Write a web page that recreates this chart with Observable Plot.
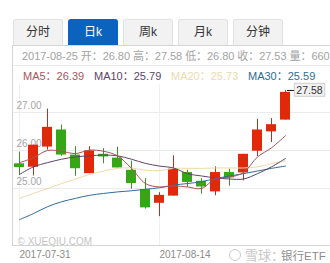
<!DOCTYPE html>
<html><head><meta charset="utf-8">
<script src="https://cdn.jsdelivr.net/npm/d3@7"></script>
<script src="https://cdn.jsdelivr.net/npm/@observablehq/plot@0.6"></script>
<style>
html,body{margin:0;padding:0;background:#fff;width:330px;height:263px;overflow:hidden}
body{position:relative;font-family:"Liberation Sans","Noto Sans CJK SC",sans-serif}
#chart{position:absolute;left:0;top:0}
#chart svg{display:block}
.tab{position:absolute;top:19px;width:50px;height:26px;box-sizing:border-box;background:#f2f2f2;border:1px solid #e2e2e2;border-bottom:none;border-radius:3px 3px 0 0;text-align:center;font-size:12px;line-height:25px;color:#333}
.tab.on{background:#0b63bd;border-color:#0b63bd;color:#fff}
.line{position:absolute;background:#d4d4d4}
.row{position:absolute;white-space:nowrap;font-size:11px;line-height:14px}
</style></head><body>
<div id="chart"></div>
<div id="chrome"></div>
<script>
const tabs = ["分时","日k","周k","月k","分钟"];
const infoText = "2017-08-25 开：26.80 高：27.58 低：26.80 收：27.53 量：660";
const maLabels = ["MA5：26.39","MA10：25.79","MA20：25.73","MA30：25.59"];
const maColors = ["#a9545a","#5c4468","#eed9ad","#2f6c96"];

const dates = ["2017-07-31","2017-08-01","2017-08-02","2017-08-03","2017-08-04",
  "2017-08-07","2017-08-08","2017-08-09","2017-08-10","2017-08-11",
  "2017-08-14","2017-08-15","2017-08-16","2017-08-17","2017-08-18",
  "2017-08-21","2017-08-22","2017-08-23","2017-08-24","2017-08-25"];
const open  = [25.65,25.56,26.09,26.54,25.88,25.39,25.90,25.80,25.48,24.97,24.61,24.80,25.42,25.19,24.91,25.42,25.41,25.98,26.49,26.80];
const close = [25.55,26.14,26.61,25.88,25.52,25.99,25.83,25.54,25.13,24.49,24.82,25.51,25.16,25.04,25.42,25.28,25.90,26.54,26.68,27.53];
const high  = [25.96,26.14,27.09,26.67,26.10,26.10,26.05,26.09,25.72,25.26,24.89,25.86,25.48,25.26,25.57,25.51,25.90,26.82,26.84,27.58];
const low   = [25.35,25.33,26.01,25.85,25.32,25.39,25.65,25.54,24.98,24.46,24.26,24.80,25.03,24.85,24.81,25.06,25.20,25.84,26.21,26.80];
const ma5   = [25.68,25.81,26.00,25.98,25.92,26.01,25.98,25.86,25.53,25.13,25.04,25.07,25.04,25.00,25.26,25.30,25.42,25.83,26.07,26.39];
const ma10  = [25.37,25.57,25.68,25.77,25.83,25.86,25.88,25.86,25.77,25.66,25.59,25.54,25.39,25.33,25.28,25.25,25.25,25.39,25.57,25.79];
const ma20  = [24.74,24.87,25.00,25.13,25.25,25.37,25.46,25.53,25.54,25.48,25.47,25.53,25.53,25.53,25.54,25.54,25.54,25.57,25.65,25.73];
const ma30  = [24.18,24.34,24.52,24.65,24.74,24.82,24.87,24.91,24.94,24.98,25.02,25.09,25.13,25.18,25.26,25.33,25.39,25.46,25.53,25.59];
const yTicks = [25,26,27];
const xTicks = ["2017-07-31","2017-08-14"];
const lastPrice = 27.58;

const candles = dates.map((d,i)=>({d,o:open[i],c:close[i],h:high[i],l:low[i]}));
const up = r => r.c >= r.o;
const ma = (vals,color)=>Plot.line(vals.map((v,i)=>({d:dates[i],v})),{x:"d",y:"v",stroke:color,strokeWidth:1,curve:"catmull-rom"});
const last = [{d:dates[dates.length-1],v:lastPrice}];

const plot = Plot.plot({
  width:330,height:263,
  marginLeft:13,marginRight:0,marginTop:84,marginBottom:18,
  style:{background:"transparent",fontFamily:"Liberation Sans, sans-serif"},
  x:{type:"band",domain:dates,range:[11.7,291.7],padding:0},
  y:{type:"linear",domain:[24,28],range:[226,74]},
  marks:[
    Plot.gridY(yTicks,{stroke:"#ececec",strokeOpacity:1}),
    Plot.gridX(xTicks,{stroke:"#f0f0f0",strokeOpacity:1}),
    Plot.axisY(yTicks,{anchor:"left",tickSize:0,tickPadding:0,textAnchor:"start",dx:3,dy:-7,fontSize:10,tickFormat:d3.format(".2f"),fill:"#a5a5a5",label:null}),
    Plot.axisX(xTicks,{anchor:"bottom",tickSize:0,tickPadding:5,textAnchor:"start",fontSize:10,fill:"#8c8c8c",label:null}),
    Plot.ruleX(candles,{x:"d",y1:"l",y2:"h",stroke:r=>up(r)?"#b2351f":"#3f8f2a",strokeWidth:1}),
    Plot.barY(candles,{x:"d",y1:"o",y2:"c",fill:r=>up(r)?"#e0290b":"#35a716",insetLeft:2,insetRight:2}),
    ma(ma20,maColors[2]),
    ma(ma30,maColors[3]),
    ma(ma10,maColors[1]),
    ma(ma5,maColors[0]),
    Plot.tickY(last,{x:"d",y:"v",stroke:"#111",strokeWidth:1,dx:9}),
    Plot.text(last,{x:"d",y:"v",text:d=>d3.format(".2f")(d.v),dx:24,fontSize:10.5,fill:"#333"}),
    Plot.text(["© XUEQIU.COM"],{frameAnchor:"bottom-left",dx:4,dy:-1,fontSize:10,fill:"#c4c4c4",textAnchor:"start"})
  ]
});
document.getElementById("chart").append(plot);

// Price label frame: placed behind the text mark, positioned from the text mark's own drawn box.
const priceText = [...plot.querySelectorAll("text")].find(t=>t.textContent===d3.format(".2f")(lastPrice));
const bb = priceText.getBBox();
const frame = document.createElementNS("http://www.w3.org/2000/svg","rect");
frame.setAttribute("x",bb.x-2);frame.setAttribute("y",bb.y-0.5);
frame.setAttribute("width",bb.width+4);frame.setAttribute("height",bb.height+1);
frame.setAttribute("fill","#f1f1f1");frame.setAttribute("stroke","#cfcfcf");
const ctm = priceText.getCTM();
frame.setAttribute("transform",`matrix(${ctm.a} ${ctm.b} ${ctm.c} ${ctm.d} ${ctm.e} ${ctm.f})`);
plot.insertBefore(frame, priceText.closest("g[aria-label]")||null);

const chrome = document.getElementById("chrome");
function el(cls,css,txt){const e=document.createElement("div");e.className=cls;e.style.cssText=css;if(txt!=null)e.textContent=txt;chrome.append(e);return e;}
tabs.forEach((t,i)=>el("tab"+(i===1?" on":""),`left:${13+i*55}px`,t));
el("line","left:13px;top:45px;width:317px;height:1px");
el("line","left:13px;top:65px;width:317px;height:1px;background:#ececec");
el("line","left:12px;top:45px;width:1px;height:201px");
el("line","left:12px;top:245px;width:318px;height:1px");
el("row","left:22px;top:49px;color:#a3a3a3;letter-spacing:-0.05px",infoText);
[23,94,171,248].forEach((x,i)=>el("row",`left:${x}px;top:69px;color:${maColors[i]}`,maLabels[i]));
el("row","left:229px;top:249px;width:12px;height:12px;border:1px solid #ccc;border-radius:50%;box-sizing:border-box");
el("row","left:245px;top:249px;font-size:13px;color:#c8c8c8","雪球：");
el("row","left:281px;top:249px;font-size:11.5px;color:#8d8d8d","银行ETF");
</script></body></html>
